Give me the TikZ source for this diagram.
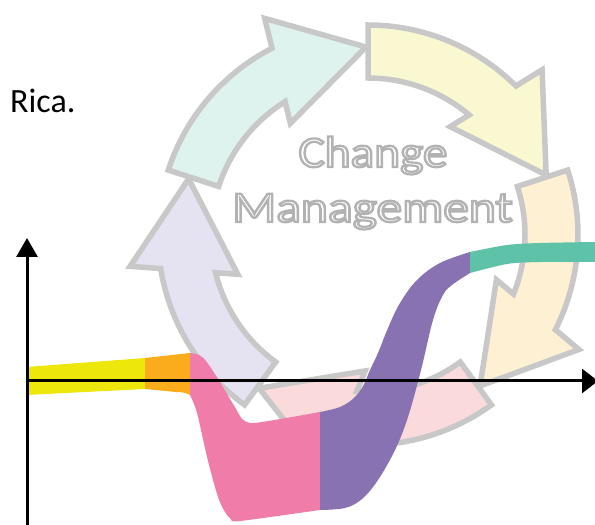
\documentclass[tikz,border=0pt]{standalone}
\usepackage{fontspec}
\setmainfont{Carlito}
\usepackage{graphicx}
\usetikzlibrary{arrows.meta}
\definecolor{cgray}{RGB}{200,200,200}
\definecolor{fteal}{RGB}{222,242,238}
\definecolor{fyellow}{RGB}{250,248,208}
\definecolor{fbeige}{RGB}{254,240,211}
\definecolor{fpink}{RGB}{250,218,218}
\definecolor{flav}{RGB}{229,226,241}
\definecolor{byellow}{RGB}{237,231,11}
\definecolor{borange}{RGB}{251,172,28}
\definecolor{bpink}{RGB}{240,124,169}
\definecolor{bpurple}{RGB}{136,114,177}
\definecolor{bteal}{RGB}{94,194,169}
\newcommand\cycarrow[2]{%
  \filldraw[cyc, fill=#2] (#1:210) arc[start angle=#1, end angle=#1-44.8, radius=210]
    -- (#1-46.5:240) -- (#1-71.4:188) -- (#1-37.2:136) -- (#1-40.1:157)
    arc[start angle=#1-40.1, end angle=#1, radius=157] -- cycle;}
\newcommand\outlinetext[1]{{\color{white}\special{pdf:literal direct 2 Tr 2.2 w 0.7 0.7 0.7 RG}#1\special{pdf:literal direct 0 Tr}}}
\begin{document}
\begin{tikzpicture}[x=1pt,y=1pt,
  cyc/.style={draw=cgray, line width=5.5pt, line join=miter},
  axisline/.style={line width=3pt, black},
  cmfont/.style={font=\fontsize{44}{44}\selectfont, inner sep=0pt, anchor=base}]
\useasboundingbox (0,0) rectangle (595,525);
% cycle arrows
\begin{scope}[shift={(368,290)}]
  \cycarrow{162}{fteal}
  \cycarrow{90}{fyellow}
  \cycarrow{18}{fbeige}
  \cycarrow{-54}{fpink}
  \cycarrow{-126}{flav}
\end{scope}
% title text
\node[cmfont] (chg) at (373,358) {\scalebox{1.12}[1]{\outlinetext{Change}}};
\node[cmfont] (mgt) at (372.5,303) {\scalebox{1.17}[1]{\outlinetext{Management}}};
% Rica
\node[anchor=base west, inner sep=0pt, font=\fontsize{34}{34}\selectfont] (rica) at (10,412) {Rica.};
% band
\fill[byellow] (26,158) -- (145,167) -- (145,136) -- (26,130) -- cycle;
\fill[borange] (145,167) -- (190,172) -- (190,130) .. controls (186,132) and (183,133) .. (176,133) -- (145,136) -- cycle;
\fill[bpink] plot[smooth, tension=0.5] coordinates {(190,172) (199,170) (206,164) (218,146) (236,116) (242,106) (250,102) (262,103) (292,108) (320,113)}
  -- (320,15)
  -- plot[smooth, tension=0.5] coordinates {(320,15) (240,4) (231,6) (225,13) (218,28) (208,64) (197,112) (190,130)} -- cycle;
\fill[bpurple] plot[smooth, tension=0.6] coordinates {(320,113) (340,118) (354,127) (363,139) (370,155) (378,172) (388,197) (400,222) (417,245) (440,262) (470,273)}
  -- (470,252)
  -- plot[smooth, tension=0.6] coordinates {(470,252) (452,240) (443,230) (433,205) (421,155) (408,108) (395,75) (378,45) (362,26) (345,17) (320,15)} -- cycle;
\fill[bteal] plot[smooth] coordinates {(470,273) (507,280) (540,282) (597,283)}
  -- (597,263)
  -- plot[smooth] coordinates {(597,263) (540,263) (507,261) (470,252)} -- cycle;
% axes
\coordinate (ybot) at (27,0);
\coordinate (ytop) at (27,287);
\coordinate (xl) at (27,144);
\coordinate (xr) at (598,144);
\draw[axisline, -{Triangle[length=19pt,width=21pt]}] (ybot) -- (ytop);
\draw[axisline, -{Triangle[length=16pt,width=24pt]}] (xl) -- (xr);
\end{tikzpicture}
\end{document}
